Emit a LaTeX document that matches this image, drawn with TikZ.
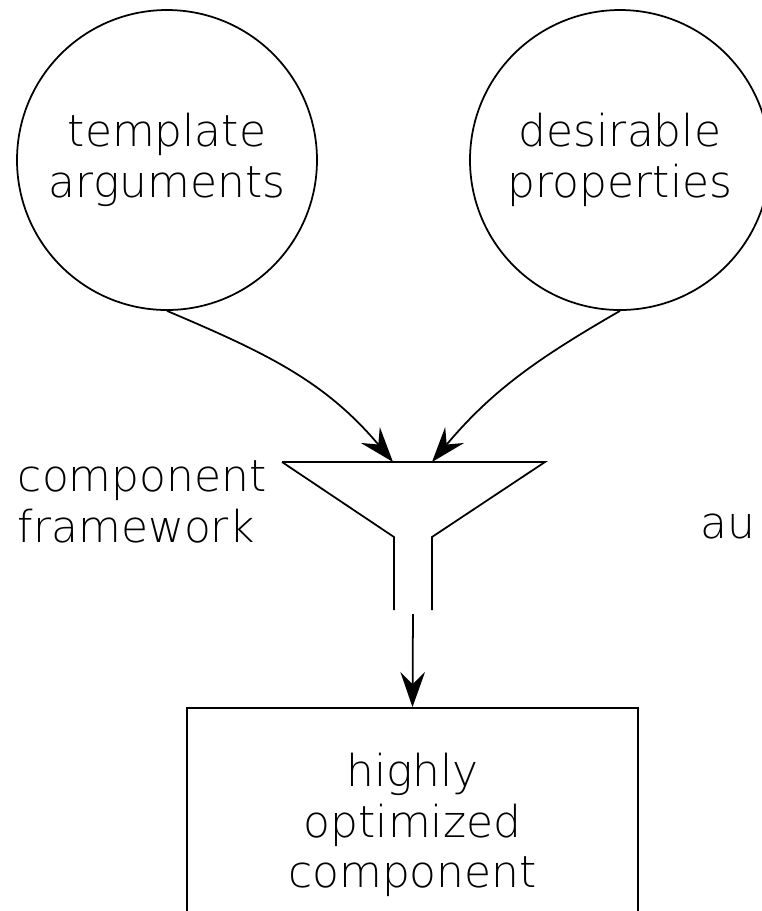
\documentclass[tikz,border=0pt]{standalone}
\usepackage{fontspec}
\setmainfont{DejaVu Sans ExtraLight}
\usetikzlibrary{arrows.meta}

\tikzset{
  txt/.style={font=\fontsize{12.5}{14.4}\selectfont, inner sep=0pt},
  idea/.style={txt, draw, circle, minimum size=3cm, align=center},
  result/.style={txt, draw, rectangle, minimum width=4.51cm, minimum height=2.34cm, align=center},
  flow/.style={-{Stealth[length=10pt, width=7pt, inset=3.5pt]}},
}

\begin{document}
\begin{tikzpicture}[line width=0.5pt]
  \clip (0,0) rectangle (7.62,-9.11);

  % inputs
  \node[idea] (args) at (1.67,-1.60) {template\\arguments};
  \node[idea] (props) at (6.20,-1.60) {desirable\\properties};

  % funnel
  \coordinate (ftl) at (2.82,-4.62);
  \coordinate (ftr) at (5.45,-4.62);
  \coordinate (inl) at (3.93,-4.62);
  \coordinate (inr) at (4.32,-4.62);
  \draw (ftl) -- (ftr) -- (4.32,-5.37) -- (4.32,-6.10);
  \draw (ftl) -- (3.94,-5.37) -- (3.94,-6.10);
  \coordinate (fout) at (4.13,-6.14);

  \node[txt, align=left, anchor=north west] (fw) at (0.17,-4.60) {component\\framework};
  \node[txt, anchor=base west] (au) at (7.00,-5.38) {au};

  % output
  \node[result] (comp) at (4.125,-8.25) {highly\\optimized\\component};

  \draw[flow] (args.south) to[out=-23, in=130] (inl);
  \draw[flow] (props.south) to[out=-150, in=50] (inr);
  \draw[flow] (fout) -- (comp.north);
\end{tikzpicture}
\end{document}
